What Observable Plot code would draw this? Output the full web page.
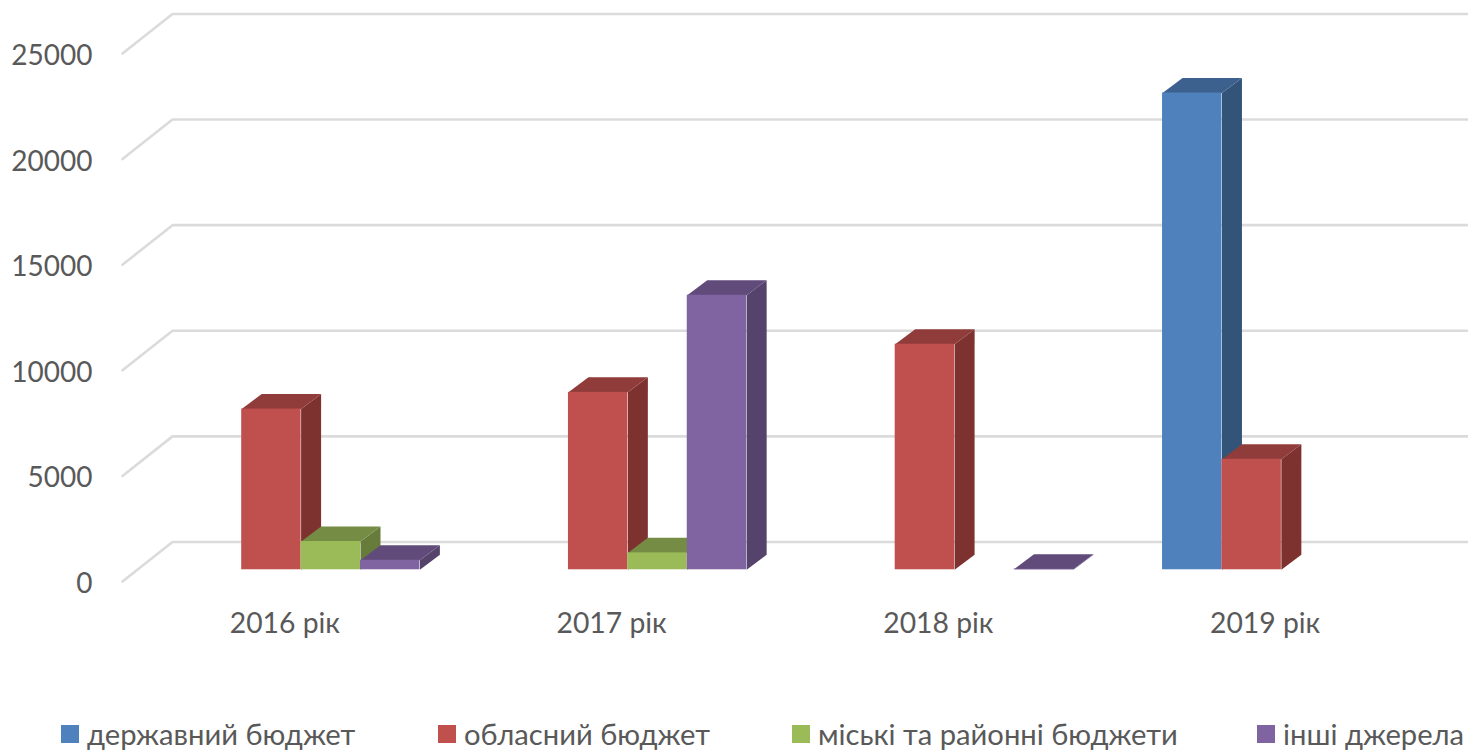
<!DOCTYPE html>
<html lang="uk">
<head>
<meta charset="utf-8">
<script src="https://cdn.jsdelivr.net/npm/d3@7"></script>
<script src="https://cdn.jsdelivr.net/npm/@observablehq/plot@0.6"></script>
<style>
  html, body { margin: 0; padding: 0; background: #fff; overflow: hidden; }
  #chart svg { display: block; }
  #legend { position: relative; height: 50px; width: 1468px; font-family: Lato, "Open Sans", sans-serif; font-size: 29.2px; color: #595959; }
  #legend span.item { position: absolute; top: 16px; line-height: 36px; white-space: nowrap; }
  #legend i { position: absolute; left: -26px; top: 9px; width: 18px; height: 18px; }
  #legend .s0 { left: 87px; }
  #legend .s1 { left: 464px; }
  #legend .s2 { left: 818px; }
  #legend .s3 { left: 1283px; }
</style>
</head>
<body>
<div id="chart"></div>
<div id="legend"></div>
<script>
const years = ["2016 рік", "2017 рік", "2018 рік", "2019 рік"];
const seriesNames = ["державний бюджет", "обласний бюджет", "міські та районні бюджети", "інші джерела"];
const derzhavnyi = [null, null, null, 22575];
const oblasnyi = [7610, 8400, 10680, 5230];
const miski = [1340, 800, null, null];
const inshi = [450, 13000, 30, null];
const seriesValues = [derzhavnyi, oblasnyi, miski, inshi];
const frontColors = ["#4F81BD", "#C0504D", "#9BBB59", "#8064A2"];
const topColors = ["#3C618E", "#903C3A", "#748C43", "#604B7A"];
const sideColors = ["#335378", "#7E3230", "#677C3B", "#55436C"];
const yTicks = [0, 5000, 10000, 15000, 20000, 25000];

// 3-D projection, in scale units
const wallDx = 0.153, wallDy = 1872;      // floor depth
const barDx = 0.0612, barDy = 711;        // column depth
const baseLift = 555;                     // column base above the floor's front edge
const groupInset = 0.183, barW = 0.1818;  // column layout inside one category

const gridPts = yTicks.flatMap(v => [
  {tick: v, u: 0, v},
  {tick: v, u: wallDx, v: v + wallDy},
  {tick: v, u: years.length + wallDx, v: v + wallDy}
]);

const seriesMarks = seriesValues.flatMap((vals, s) => {
  const bars = vals.flatMap((v, c) => v === null ? [] : [{
    x1: c + groupInset + s * barW,
    x2: c + groupInset + (s + 1) * barW,
    y1: baseLift,
    y2: v + baseLift
  }]);
  const top = bars.flatMap((b, i) => [
    {id: i, u: b.x1, v: b.y2},
    {id: i, u: b.x2, v: b.y2},
    {id: i, u: b.x2 + barDx, v: b.y2 + barDy},
    {id: i, u: b.x1 + barDx, v: b.y2 + barDy}
  ]);
  const side = bars.flatMap((b, i) => [
    {id: i, u: b.x2, v: b.y1},
    {id: i, u: b.x2 + barDx, v: b.y1 + barDy},
    {id: i, u: b.x2 + barDx, v: b.y2 + barDy},
    {id: i, u: b.x2, v: b.y2}
  ]);
  return [
    Plot.line(side, {x: "u", y: "v", z: "id", fill: sideColors[s], stroke: "none"}),
    Plot.line(top, {x: "u", y: "v", z: "id", fill: topColors[s], stroke: "none"}),
    Plot.rect(bars, {x1: "x1", x2: "x2", y1: "y1", y2: "y2", fill: frontColors[s], inset: 0})
  ];
});

const chart = Plot.plot({
  width: 1468,
  height: 700,
  marginLeft: 122,
  marginRight: 39,
  marginTop: 53,
  marginBottom: 119,
  style: {background: "#fff", fontFamily: "Lato, 'Open Sans', sans-serif"},
  x: {domain: [0, years.length]},
  y: {domain: [0, 25000]},
  marks: [
    Plot.line(gridPts, {x: "u", y: "v", z: "tick", stroke: "#DBDBDB", strokeWidth: 2.6}),
    ...seriesMarks,
    Plot.axisY({ticks: yTicks, tickSize: 0, tickPadding: 30, dy: 2.5, label: null, fontSize: 28, color: "#595959", tickFormat: d => String(d)}),
    Plot.axisX({ticks: years.map((_, i) => i + 0.5), tickSize: 0, tickPadding: 31, dx: -1, label: null, fontSize: 28.3, color: "#595959", tickFormat: d => years[Math.floor(d)]})
  ]
});
document.getElementById("chart").append(chart);

const legend = d3.select("#legend");
seriesNames.forEach((name, i) => {
  const item = legend.append("span").attr("class", "item s" + i).text(name);
  item.append("i").style("background", frontColors[i]);
});
</script>
</body>
</html>
